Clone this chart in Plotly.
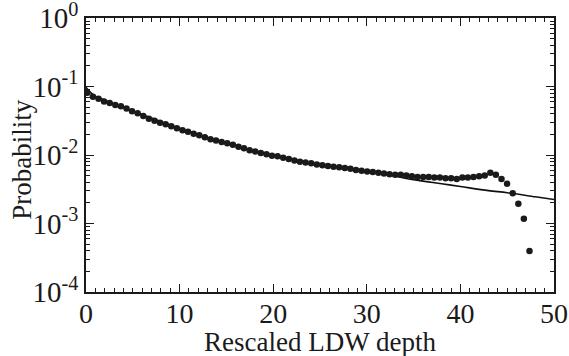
import plotly.graph_objects as go

# Binned data (dots): rescaled LDW depth vs probability
dot_x = [0.14, 0.74, 1.34, 1.93, 2.53, 3.13, 3.73, 4.33, 4.92, 5.52,
         6.12, 6.72, 7.32, 7.91, 8.51, 9.11, 9.71, 10.31, 10.90, 11.50,
         12.10, 12.70, 13.30, 13.89, 14.49, 15.09, 15.69, 16.29, 16.88, 17.48,
         18.08, 18.68, 19.28, 19.87, 20.47, 21.07, 21.67, 22.27, 22.86, 23.46,
         24.06, 24.66, 25.26, 25.85, 26.45, 27.05, 27.65, 28.25, 28.84, 29.44,
         30.04, 30.64, 31.24, 31.83, 32.43, 33.03, 33.63, 34.23, 34.82, 35.42,
         36.02, 36.62, 37.22, 37.81, 38.41, 39.01, 39.61, 40.21, 40.80, 41.40,
         42.00, 42.60, 43.20, 43.79, 44.39, 44.99, 45.59, 46.19, 46.78, 47.38]
dot_log = [-1.09, -1.15, -1.18, -1.22, -1.24, -1.27, -1.29, -1.32, -1.36, -1.39,
           -1.43, -1.47, -1.50, -1.53, -1.55, -1.58, -1.61, -1.64, -1.66, -1.69,
           -1.71, -1.74, -1.77, -1.79, -1.81, -1.83, -1.85, -1.88, -1.90, -1.93,
           -1.95, -1.97, -1.99, -2.01, -2.02, -2.04, -2.06, -2.08, -2.10, -2.11,
           -2.12, -2.14, -2.15, -2.16, -2.17, -2.18, -2.19, -2.20, -2.22, -2.23,
           -2.24, -2.25, -2.26, -2.27, -2.28, -2.29, -2.29, -2.30, -2.31, -2.32,
           -2.32, -2.32, -2.33, -2.33, -2.34, -2.34, -2.35, -2.33, -2.33, -2.32,
           -2.31, -2.30, -2.26, -2.29, -2.35, -2.42, -2.56, -2.71, -2.93, -3.40]
dot_y = [10 ** v for v in dot_log]

# Fitted curve (solid line)
fit_x = [0, 0.5, 1, 2, 3, 4, 5, 7, 10, 13, 15, 18, 20, 23, 25, 28, 30,
         33, 35, 38, 40, 43, 45, 48, 50]
fit_log = [-1.01, -1.09, -1.14, -1.20, -1.26, -1.31, -1.36, -1.46, -1.61, -1.75,
           -1.83, -1.94, -2.00, -2.09, -2.14, -2.20, -2.24, -2.31, -2.36, -2.42,
           -2.46, -2.52, -2.55, -2.61, -2.65]
fit_y = [10 ** v for v in fit_log]

y_tickvals = [1e-4, 1e-3, 1e-2, 1e-1, 1e0]
y_ticktext = ["10<sup>-4</sup>", "10<sup>-3</sup>", "10<sup>-2</sup>",
              "10<sup>-1</sup>", "10<sup>0</sup>"]
y_minor = [m * 10 ** e for e in range(-4, 0) for m in range(2, 10)]

x_title = "Rescaled LDW depth"
y_title = "Probability"

font_family = "'Times New Roman', 'Liberation Serif', Times, serif"

fig = go.Figure()
fig.add_trace(go.Scatter(x=fit_x, y=fit_y, mode="lines",
                         line=dict(color="#111111", width=1.6, shape="spline"),
                         showlegend=False, hoverinfo="skip"))
fig.add_trace(go.Scatter(x=dot_x, y=dot_y, mode="markers",
                         marker=dict(color="#1a1a1a", size=6.5),
                         showlegend=False))

fig.update_layout(
    width=569, height=356,
    margin=dict(l=86, r=15, t=18, b=64, autoexpand=False),
    paper_bgcolor="white", plot_bgcolor="white",
    font=dict(family=font_family, color="#1a1a1a", size=28),
    xaxis=dict(
        range=[0, 50], tickmode="array", tickvals=[0, 10, 20, 30, 40, 50],
        ticks="inside", ticklen=8, tickwidth=1.2, tickcolor="#1a1a1a",
        showline=True, linecolor="#1a1a1a", linewidth=1.6, mirror="allticks",
        showgrid=False, zeroline=False, ticklabeloverflow="allow",
        automargin=False, ticklabelstandoff=-4,
        tickfont=dict(size=28, family=font_family),
        minor=dict(tickmode="linear", tick0=0, dtick=1, ticks="inside",
                   ticklen=4, tickwidth=1, tickcolor="#1a1a1a", showgrid=False),
    ),
    yaxis=dict(
        type="log", range=[-4, 0], tickmode="array",
        tickvals=y_tickvals, ticktext=y_ticktext,
        ticks="inside", ticklen=8, tickwidth=1.2, tickcolor="#1a1a1a",
        showline=True, linecolor="#1a1a1a", linewidth=1.6, mirror="allticks",
        showgrid=False, zeroline=False, ticklabeloverflow="allow",
        automargin=False,
        tickfont=dict(size=29, family=font_family),
        minor=dict(tickmode="array", tickvals=y_minor, ticks="inside",
                   ticklen=4, tickwidth=1, tickcolor="#1a1a1a", showgrid=False),
    ),
    annotations=[
        dict(text=x_title, xref="paper", yref="paper", x=0.5, y=-0.181,
             xanchor="center", yanchor="middle", showarrow=False,
             font=dict(size=27, family=font_family, color="#1a1a1a")),
        dict(text=y_title, xref="paper", yref="paper", x=-0.137, y=0.482,
             xanchor="center", yanchor="middle", showarrow=False, textangle=-90,
             font=dict(size=27, family=font_family, color="#1a1a1a")),
    ],
)

fig.write_html("out.html")
